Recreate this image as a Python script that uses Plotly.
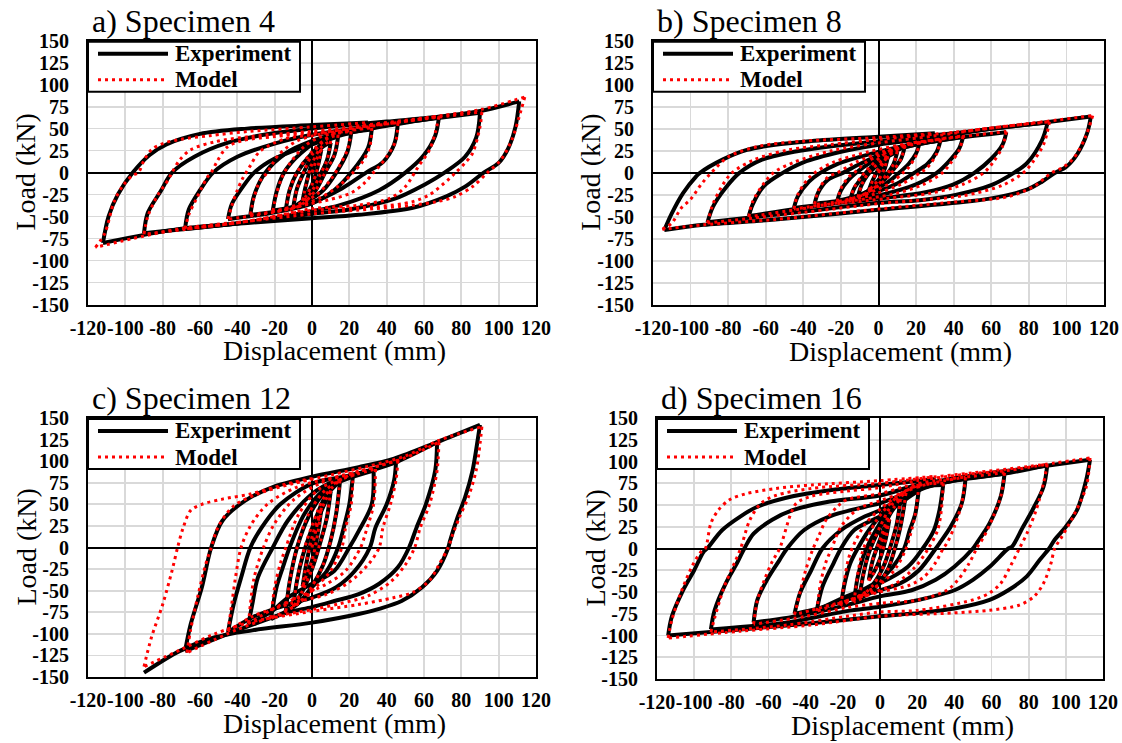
import plotly.graph_objects as go

# ---------------- data (displacement mm, load kN) ----------------
x_ticks = [-120, -100, -80, -60, -40, -20, 0, 20, 40, 60, 80, 100, 120]
y_ticks = [-150, -125, -100, -75, -50, -25, 0, 25, 50, 75, 100, 125, 150]
x_tick_text = ["-120", "-100", "-80", "-60", "-40", "-20", "0", "20", "40", "60", "80", "100", "120"]
y_tick_text = ["-150", "-125", "-100", "-75", "-50", "-25", "0", "25", "50", "75", "100", "125", "150"]

panel_titles = ["a) Specimen 4", "b) Specimen 8", "c) Specimen 12", "d) Specimen 16"]
series_names = ["Experiment", "Model"]

spec4_exp = [
    (0, 0), (3, 18), (5, 26),
    (3, 6), (0, -14), (-3, -25), (-5, -31),
    (-3, -12), (0, 10), (5, 28), (10, 34),
    (8, 14), (4, -4), (0, -20), (-5, -32), (-10, -39),
    (-8, -18), (-4, 2), (0, 18), (7, 35), (14, 41),
    (12, 20), (7, 0), (2, -20), (-6, -36), (-14, -42),
    (-12, -20), (-8, 0), (0, 22), (10, 40), (21, 45),
    (19, 24), (13, 0), (6, -20), (-4, -34), (-12, -40), (-21, -43),
    (-19, -22), (-15, 0), (-6, 22), (5, 38), (18, 45), (32, 49),
    (30, 28), (21, 0), (12, -20), (0, -35), (-15, -43), (-33, -48),
    (-31, -26), (-25, 0), (-14, 22), (0, 36), (15, 45), (32, 51), (46, 56),
    (44, 32), (38, 12), (29, 0), (16, -18), (0, -34), (-20, -45), (-45, -53),
    (-43, -36), (-37, -16), (-31, 0), (-20, 16), (0, 32), (20, 45), (45, 55), (68, 63),
    (66, 42), (60, 20), (50, 0), (36, -20), (15, -37), (0, -44), (-30, -55), (-68, -64),
    (-66, -42), (-60, -20), (-53, 0), (-40, 18), (-20, 33), (0, 43), (30, 52), (60, 60), (90, 68),
    (88, 40), (82, 18), (71, 0), (60, -14), (44, -30), (20, -42), (0, -47), (-40, -58), (-90, -69),
    (-88, -46), (-81, -21), (-75, 0), (-63, 18), (-45, 34), (-20, 45), (0, 50), (40, 58), (70, 64), (90, 70), (111, 81),
    (109, 52), (105, 27), (100, 11), (92, 0), (82, -16), (72, -27), (54, -40), (25, -48), (0, -52), (-33, -57), (-71, -64), (-112, -80),
    (-109, -50), (-104, -25), (-96, 0), (-87, 20), (-78, 32), (-60, 44), (-35, 50), (0, 54), (30, 57),
]

spec4_mod = [
    (0, 0), (3, 18), (5, 27),
    (3, 5), (0, -14), (-3, -26), (-5, -32),
    (-3, -12), (0, 10), (5, 29), (10, 36),
    (8, 14), (4, -4), (0, -21), (-5, -33), (-10, -40),
    (-8, -18), (-4, 3), (0, 20), (7, 37), (14, 43),
    (12, 20), (7, 0), (2, -20), (-6, -37), (-14, -43),
    (-12, -20), (-8, 0), (0, 24), (10, 42), (21, 47),
    (19, 26), (14, 5), (10, -8), (3, -24), (-8, -37), (-21, -44),
    (-19, -24), (-16, -5), (-12, 10), (-4, 30), (5, 41), (18, 47), (32, 51),
    (31, 30), (27, 12), (22, 0), (15, -14), (5, -28), (-10, -40), (-33, -48),
    (-31, -28), (-28, -10), (-24, 0), (-18, 20), (-8, 36), (5, 44), (20, 49), (46, 57),
    (45, 37), (40, 18), (36, 7), (33, 0), (28, -12), (21, -23), (9, -31), (0, -35), (-20, -45), (-45, -53),
    (-43, -38), (-40, -20), (-37, -6), (-33, 8), (-28, 24), (-15, 38), (0, 43), (25, 52), (45, 57), (68, 64),
    (66, 45), (63, 26), (57, 7), (55, 0), (50, -16), (42, -29), (25, -37), (0, -41), (-30, -54), (-68, -64),
    (-66, -48), (-62, -30), (-59, -17), (-56, -5), (-54, 0), (-51, 12), (-46, 28), (-38, 36), (-20, 41), (0, 45), (30, 53), (60, 61), (91, 69),
    (90, 52), (86, 22), (82, 11), (77, 0), (73, -8), (63, -25), (54, -33), (34, -39), (0, -43), (-40, -57), (-90, -70),
    (-88, -50), (-83, -27), (-77, -8), (-75, 0), (-71, 14), (-65, 26), (-52, 35), (-33, 41), (0, 47), (40, 57), (70, 65), (91, 72), (114, 86),
    (112, 71), (107, 37), (101, 14), (94, 0), (86, -16), (77, -27), (67, -33), (54, -37), (34, -41), (0, -47), (-33, -55), (-71, -64), (-116, -85),
    (-111, -69), (-106, -33), (-101, -14), (-96, -3), (-93, 0), (-90, 14), (-86, 26), (-80, 33), (-70, 38), (-55, 42), (-33, 47), (0, 52), (30, 57),
]

spec8_exp = [
    (0, 0), (3, 12), (5, 18),
    (3, 3), (0, -8), (-3, -14), (-5, -19),
    (-3, -8), (0, 4), (5, 18), (10, 24),
    (8, 10), (5, 0), (0, -12), (-5, -20), (-11, -27),
    (-9, -14), (-6, -3), (0, 10), (7, 22), (14, 30),
    (12, 16), (8, 4), (3, -8), (-4, -19), (-15, -30),
    (-13, -18), (-9, -6), (-4, 6), (5, 22), (14, 30), (22, 35),
    (20, 22), (16, 10), (11, 0), (4, -12), (-8, -24), (-22, -32),
    (-20, -20), (-16, -8), (-12, 0), (-4, 12), (8, 25), (20, 32), (33, 37),
    (31, 24), (26, 10), (19, 0), (10, -12), (-2, -22), (-15, -30), (-34, -35),
    (-32, -22), (-27, -8), (-19, 0), (-10, 10), (5, 24), (20, 32), (45, 41),
    (43, 28), (37, 12), (31, 0), (20, -13), (5, -23), (-15, -31), (-45, -40),
    (-43, -27), (-37, -10), (-31, 0), (-22, 10), (-5, 21), (15, 31), (40, 39), (68, 46),
    (66, 32), (60, 16), (51, 0), (40, -13), (25, -22), (5, -28), (-25, -35), (-69, -49),
    (-67, -36), (-61, -15), (-51, 0), (-40, 12), (-20, 24), (0, 32), (30, 40), (60, 50), (90, 57),
    (87, 37), (79, 11), (72, 0), (60, -14), (41, -25), (22, -31), (0, -34), (-40, -44), (-91, -56),
    (-88, -38), (-81, -16), (-74, 0), (-62, 15), (-45, 24), (-26, 30), (0, 36), (40, 45), (80, 55), (113, 64),
    (111, 45), (106, 22), (100, 7), (94, 0), (87, -10), (79, -19), (60, -29), (41, -34), (0, -42), (-55, -53), (-93, -59), (-114, -65),
    (-110, -46), (-104, -23), (-97, -4), (-95, 0), (-83, 15), (-70, 26), (-55, 32), (-36, 36), (0, 41), (30, 45),
]

spec8_mod = [
    (0, 0), (3, 13), (5, 19),
    (3, 4), (0, -8), (-3, -15), (-5, -20),
    (-3, -8), (0, 5), (5, 19), (10, 25),
    (8, 10), (5, 0), (0, -13), (-5, -21), (-11, -28),
    (-9, -14), (-6, -2), (0, 11), (7, 23), (14, 31),
    (12, 16), (8, 3), (3, -9), (-4, -20), (-15, -31),
    (-13, -17), (-9, -4), (-4, 8), (5, 24), (14, 31), (22, 36),
    (20, 20), (16, 6), (13, 0), (6, -12), (-8, -25), (-22, -33),
    (-20, -18), (-16, -5), (-13, 0), (-6, 13), (8, 26), (20, 33), (33, 38),
    (31, 22), (26, 6), (22, 0), (12, -13), (-2, -24), (-15, -31), (-34, -36),
    (-32, -20), (-27, -5), (-22, 0), (-12, 12), (5, 26), (20, 34), (45, 42),
    (43, 26), (38, 10), (34, 0), (24, -13), (8, -24), (-15, -32), (-45, -41),
    (-43, -25), (-38, -8), (-34, 0), (-24, 12), (-5, 24), (15, 33), (40, 40), (68, 47),
    (66, 30), (61, 12), (56, 0), (45, -13), (28, -23), (5, -29), (-25, -36), (-69, -50),
    (-67, -33), (-61, -12), (-56, 0), (-45, 12), (-25, 25), (0, 34), (30, 42), (60, 51), (91, 58),
    (88, 33), (82, 12), (77, 0), (66, -14), (45, -26), (22, -31), (0, -35), (-40, -45), (-91, -57),
    (-88, -35), (-83, -14), (-78, 0), (-66, 15), (-48, 26), (-26, 32), (0, 38), (40, 46), (80, 56), (114, 65),
    (110, 40), (104, 17), (98, 6), (92, 0), (83, -15), (69, -27), (41, -33), (0, -41), (-55, -53), (-93, -59), (-115, -64),
    (-110, -57), (-105, -40), (-100, -30), (-94, -12), (-89, 0), (-80, 18), (-64, 30), (-40, 36), (0, 40), (30, 45),
]

spec12_exp = [
    (0, 0), (3, 28), (5, 45),
    (3, 15), (0, -15), (-3, -32), (-5, -45),
    (-3, -18), (0, 10), (5, 42), (10, 65),
    (8, 35), (5, 10), (0, -25), (-5, -50), (-10, -68),
    (-8, -38), (-5, -10), (0, 22), (7, 58), (15, 77),
    (13, 40), (10, 8), (6, -20), (0, -45), (-6, -62), (-14, -73),
    (-12, -40), (-8, 0), (-2, 35), (6, 62), (14, 76), (22, 85),
    (20, 50), (17, 23), (14, 0), (8, -27), (0, -46), (-8, -66), (-22, -83),
    (-19, -46), (-15, -19), (-12, 0), (-4, 39), (6, 66), (17, 78), (33, 89),
    (32, 50), (25, 19), (20, 0), (12, -27), (0, -42), (-13, -58), (-21, -73), (-34, -89),
    (-32, -66), (-29, -35), (-21, 0), (-13, 31), (0, 62), (13, 78), (30, 89), (45, 99),
    (44, 78), (40, 50), (34, 23), (31, 0), (23, -27), (13, -46), (0, -58), (-13, -66), (-32, -81), (-45, -98),
    (-42, -66), (-38, -35), (-33, 0), (-27, 23), (-17, 50), (0, 74), (17, 82), (31, 89), (45, 99), (67, 122),
    (66, 89), (61, 50), (56, 23), (52, 0), (46, -23), (36, -42), (25, -54), (12, -62), (0, -69), (-13, -75), (-30, -88), (-45, -100), (-68, -120),
    (-65, -89), (-59, -46), (-54, 0), (-48, 31), (-36, 54), (-21, 70), (0, 82), (25, 93), (44, 103), (67, 122), (90, 142),
    (89, 128), (86, 89), (82, 58), (78, 35), (74, 8), (73, 0), (67, -27), (59, -46), (48, -62), (36, -71), (25, -77), (0, -87), (-32, -96), (-52, -104), (-71, -120), (-90, -145),
]

spec12_mod = [
    (0, 0), (3, 28), (5, 46),
    (3, 15), (0, -15), (-3, -32), (-5, -46),
    (-3, -18), (0, 12), (5, 44), (10, 66),
    (8, 35), (5, 10), (0, -25), (-5, -50), (-10, -69),
    (-8, -38), (-5, -8), (0, 25), (7, 60), (15, 78),
    (13, 40), (10, 8), (6, -20), (0, -45), (-6, -62), (-14, -74),
    (-12, -40), (-8, 0), (-2, 38), (6, 64), (14, 77), (22, 86),
    (21, 50), (18, 23), (16, 0), (10, -27), (2, -46), (-8, -66), (-22, -82),
    (-20, -46), (-17, -19), (-14, 0), (-7, 39), (4, 68), (17, 80), (34, 91),
    (33, 50), (29, 19), (26, 0), (18, -27), (8, -42), (-8, -58), (-20, -70), (-34, -88),
    (-33, -66), (-31, -35), (-26, 0), (-20, 28), (-10, 55), (5, 75), (25, 88), (46, 101),
    (45, 78), (42, 50), (38, 23), (36, 0), (30, -20), (20, -40), (8, -54), (-10, -64), (-32, -80), (-45, -97),
    (-43, -66), (-41, -35), (-38, 0), (-33, 25), (-24, 50), (-8, 70), (15, 83), (35, 94), (50, 104), (68, 122),
    (67, 89), (63, 50), (58, 23), (55, 0), (50, -20), (42, -40), (30, -56), (15, -65), (0, -72), (-20, -80), (-40, -95), (-67, -122),
    (-65, -95), (-61, -55), (-57, -20), (-54, 0), (-50, 25), (-42, 48), (-28, 63), (-10, 74), (10, 84), (30, 94), (50, 106), (68, 124), (91, 140),
    (90, 120), (88, 90), (84, 60), (79, 35), (75, 13), (73, 0), (68, -20), (63, -38), (54, -52), (44, -58), (25, -66), (0, -74), (-32, -86), (-52, -100), (-70, -118), (-90, -138),
    (-86, -104), (-80, -66), (-75, -27), (-72, 0), (-69, 23), (-65, 43), (-59, 50), (-48, 56), (-33, 62), (-13, 74), (0, 80),
]

spec16_exp = [
    (0, 0), (3, 22), (5, 33),
    (3, 10), (0, -12), (-3, -26), (-6, -36),
    (-4, -14), (0, 10), (5, 38), (11, 56),
    (9, 28), (6, 5), (2, -20), (-4, -42), (-11, -55),
    (-9, -30), (-6, -5), (0, 24), (7, 50), (14, 63),
    (11, 25), (8, 0), (4, -25), (-4, -48), (-14, -61),
    (-12, -33), (-9, -9), (-6, 6), (0, 29), (7, 52), (15, 67), (21, 71),
    (19, 40), (16, 21), (13, 0), (7, -21), (0, -36), (-12, -51), (-21, -65),
    (-19, -40), (-16, -17), (-12, 0), (-6, 21), (0, 37), (9, 56), (20, 70), (34, 73),
    (32, 44), (29, 21), (23, 0), (15, -21), (0, -40), (-18, -55), (-34, -71),
    (-31, -44), (-25, -17), (-21, 0), (-14, 21), (0, 37), (11, 52), (22, 68), (35, 76), (46, 80),
    (44, 52), (38, 25), (32, 6), (30, 0), (21, -25), (11, -40), (0, -48), (-18, -59), (-37, -71), (-46, -75),
    (-43, -51), (-37, -25), (-31, 0), (-21, 21), (-8, 37), (0, 44), (15, 62), (30, 75), (50, 81), (67, 86),
    (65, 60), (59, 29), (52, 6), (50, 0), (40, -21), (30, -36), (17, -48), (0, -55), (-18, -65), (-40, -76), (-68, -85),
    (-66, -59), (-60, -33), (-54, -13), (-50, 0), (-41, 21), (-27, 37), (-8, 48), (0, 52), (20, 68), (45, 80), (70, 87), (90, 96),
    (88, 71), (82, 44), (77, 25), (71, 2), (69, 0), (59, -21), (50, -36), (40, -48), (21, -59), (0, -67), (-18, -72), (-50, -85), (-91, -93),
    (-89, -71), (-83, -40), (-77, -17), (-73, 0), (-68, 17), (-58, 33), (-47, 44), (-27, 54), (0, 61), (20, 73), (50, 84), (79, 92), (113, 102),
    (111, 79), (106, 44), (100, 25), (94, 10), (91, 0), (86, -13), (79, -32), (69, -48), (59, -59), (40, -69), (21, -74), (0, -78), (-37, -86), (-75, -93), (-114, -100),
    (-112, -78), (-106, -48), (-100, -25), (-95, -4), (-93, 0), (-85, 21), (-75, 37), (-66, 48), (-47, 60), (-27, 67), (0, 73), (30, 80),
]

spec16_mod = [
    (0, 0), (3, 22), (5, 34),
    (3, 10), (0, -12), (-3, -27), (-6, -37),
    (-4, -14), (0, 10), (5, 39), (11, 57),
    (9, 28), (6, 5), (2, -20), (-4, -43), (-11, -56),
    (-9, -30), (-6, -5), (0, 25), (7, 52), (14, 64),
    (11, 25), (8, 0), (4, -25), (-4, -49), (-14, -62),
    (-12, -30), (-10, -8), (-7, 10), (-2, 32), (7, 55), (15, 68), (21, 73),
    (19, 40), (17, 21), (14, 0), (9, -21), (2, -38), (-10, -53), (-21, -66),
    (-19, -35), (-17, -12), (-14, 5), (-8, 28), (0, 45), (9, 60), (20, 72), (34, 75),
    (33, 44), (31, 21), (26, 0), (19, -21), (7, -42), (-15, -58), (-34, -72),
    (-32, -40), (-29, -15), (-26, 0), (-21, 25), (-12, 45), (0, 55), (11, 63), (22, 72), (35, 78), (46, 82),
    (44, 52), (40, 25), (36, 6), (34, 0), (30, -16), (24, -32), (16, -42), (0, -50), (-18, -60), (-37, -71), (-46, -76),
    (-43, -50), (-40, -25), (-36, 0), (-33, 14), (-29, 33), (-23, 48), (-18, 56), (0, 63), (15, 72), (30, 78), (50, 83), (67, 87),
    (65, 60), (61, 37), (56, 14), (52, 0), (48, -17), (42, -36), (36, -48), (21, -59), (0, -63), (-18, -68), (-40, -78), (-68, -87),
    (-66, -60), (-62, -35), (-58, -15), (-54, 0), (-48, 40), (-45, 52), (-37, 60), (-18, 66), (0, 70), (20, 78), (45, 85), (70, 90), (90, 97),
    (88, 75), (84, 44), (79, 17), (75, 0), (71, -17), (65, -40), (59, -51), (50, -59), (21, -71), (0, -73), (-18, -78), (-50, -88), (-91, -96),
    (-89, -80), (-84, -45), (-79, -20), (-75, 0), (-70, 33), (-64, 52), (-56, 61), (-37, 69), (0, 75), (20, 80), (50, 87), (79, 94), (113, 104),
    (111, 71), (104, 37), (98, 14), (94, 0), (92, -17), (88, -40), (83, -55), (75, -65), (59, -71), (40, -74), (0, -78), (-37, -88), (-75, -95), (-114, -103),
    (-112, -82), (-107, -50), (-101, -20), (-96, -3), (-94, 0), (-91, 29), (-87, 44), (-81, 56), (-72, 63), (-56, 69), (-37, 73), (0, 78), (30, 83),
]

# ---------------- layout helpers ----------------
W, H = 1122, 743
FONT = "Liberation Serif, Times New Roman, serif"


def px_x(p):
    return p / W


def px_y(p):
    return 1 - p / H


def split_branches(points):
    """Break the loading path at each reversal so every branch is smoothed alone."""
    xs, ys = [], []
    n = len(points)
    for i, (d, f) in enumerate(points):
        xs.append(d)
        ys.append(f)
        if 0 < i < n - 1:
            a = d - points[i - 1][0]
            b = points[i + 1][0] - d
            if a * b < 0:
                xs.append(None)
                ys.append(None)
                xs.append(d)
                ys.append(f)
    return xs, ys


# plot-box pixel boxes (left, right, top, bottom)
boxes = [
    (88, 536, 40.7, 304.5),
    (653, 1104, 40.7, 305),
    (88, 536, 418, 677),
    (657, 1103, 418, 679),
]
datasets = [
    (spec4_exp, spec4_mod),
    (spec8_exp, spec8_mod),
    (spec12_exp, spec12_mod),
    (spec16_exp, spec16_mod),
]

fig = go.Figure()
layout = dict(
    width=W, height=H,
    margin=dict(l=0, r=0, t=0, b=0, pad=0, autoexpand=False),
    paper_bgcolor="white", plot_bgcolor="white",
    font=dict(family=FONT, color="black"),
    showlegend=False,
    annotations=[], shapes=[],
)

bold_x = ["<b>%s</b>" % s for s in x_tick_text]
bold_y = ["<b>%s</b>" % s for s in y_tick_text]

EXP_LINE = dict(color="black", width=4)
MOD_LINE = dict(color="red", width=3, dash="3px,4px")

for k, ((exp, mod), (l, r, t, b)) in enumerate(zip(datasets, boxes)):
    sfx = "" if k == 0 else str(k + 1)
    ex, ey = split_branches(exp)
    mx, my = split_branches(mod)
    fig.add_trace(go.Scatter(
        x=ex, y=ey, mode="lines", name=series_names[0],
        line=dict(EXP_LINE, shape="spline", smoothing=0.9),
        xaxis="x" + sfx, yaxis="y" + sfx, connectgaps=False,
    ))
    fig.add_trace(go.Scatter(
        x=mx, y=my, mode="lines", name=series_names[1],
        line=dict(MOD_LINE, shape="spline", smoothing=0.9),
        xaxis="x" + sfx, yaxis="y" + sfx, connectgaps=False,
    ))
    axis_common = dict(
        showgrid=True, gridcolor="#d9d9d9", gridwidth=1.7,
        zeroline=True, zerolinecolor="black", zerolinewidth=2,
        showline=True, linecolor="black", linewidth=2, mirror=True,
        ticks="outside", tickcolor="rgba(0,0,0,0)",
        tickfont=dict(family=FONT, size=20, color="black"),
        fixedrange=True, automargin=False,
    )
    layout["xaxis" + sfx] = dict(
        axis_common, domain=[px_x(l), px_x(r)], range=[-120, 120],
        tickmode="array", tickvals=x_ticks, ticktext=bold_x, tickangle=0,
        ticklen=4, anchor="y" + sfx,
    )
    layout["yaxis" + sfx] = dict(
        axis_common, domain=[px_y(b), px_y(t)], range=[-150, 150],
        tickmode="array", tickvals=y_ticks, ticktext=bold_y, tickangle=0,
        ticklen=13, anchor="x" + sfx,
    )

    # ---- legend box (per panel) ----
    lt, lb, lr = t + 1, t + 51, l + 212
    layout["shapes"].append(dict(
        type="rect", xref="paper", yref="paper", layer="above",
        x0=px_x(l), x1=px_x(lr), y0=px_y(lb), y1=px_y(lt),
        line=dict(color="black", width=2), fillcolor="white",
    ))
    for j, (name, ln) in enumerate(zip(series_names, (EXP_LINE, MOD_LINE))):
        yy = lt + 12 + 26 * j
        layout["shapes"].append(dict(
            type="line", xref="paper", yref="paper", layer="above",
            x0=px_x(l + 10), x1=px_x(l + 80), y0=px_y(yy), y1=px_y(yy),
            line=ln,
        ))
        layout["annotations"].append(dict(
            text="<b>%s</b>" % name, xref="paper", yref="paper",
            x=px_x(l + 85), y=px_y(yy), xanchor="left", yanchor="middle",
            showarrow=False, font=dict(family=FONT, size=23, color="black"),
        ))

    # panel title
    layout["annotations"].append(dict(
        text=panel_titles[k], xref="paper", yref="paper",
        x=px_x(l + 2), y=px_y(t - 20), xanchor="left", yanchor="middle",
        showarrow=False, font=dict(family=FONT, size=32, color="black"),
    ))
    # x-axis title
    layout["annotations"].append(dict(
        text="Displacement (mm)", xref="paper", yref="paper",
        x=px_x((l + r) / 2 + 22), y=px_y(b + 46), xanchor="center", yanchor="middle",
        showarrow=False, font=dict(family=FONT, size=28, color="black"),
    ))
    # y-axis title
    layout["annotations"].append(dict(
        text="Load (kN)", xref="paper", yref="paper", textangle=-90,
        x=px_x(l - 62), y=px_y((t + b) / 2), xanchor="center", yanchor="middle",
        showarrow=False, font=dict(family=FONT, size=28, color="black"),
    ))

fig.update_layout(**layout)
# remove the browser's default 8 px body margin so the figure fills the window
fig.write_html(
    "out.html",
    config={"displayModeBar": False, "staticPlot": True},
    post_script="document.body.style.margin='0';document.body.style.padding='0';",
)
